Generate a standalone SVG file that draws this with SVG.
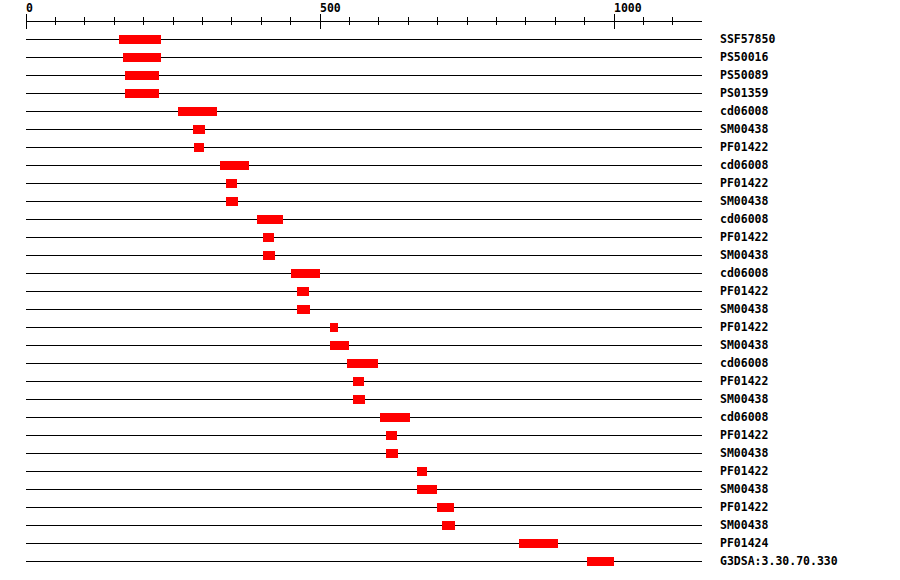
<svg xmlns="http://www.w3.org/2000/svg" width="900" height="580" viewBox="0 0 900 580">
<style>
.ln{stroke:#000;stroke-width:1;shape-rendering:crispEdges}
.bar{fill:#ff0000;shape-rendering:crispEdges}
.t{font-family:"DejaVu Sans Mono","Liberation Mono",monospace;font-weight:bold;font-size:11.5px;fill:#000}
</style>
<rect width="900" height="580" fill="#fff"/>
<g id="axis">
<line class="ln" x1="26" y1="21.5" x2="702" y2="21.5"/>
<line class="ln" x1="26.5" y1="14" x2="26.5" y2="29"/>
<line class="ln" x1="55.5" y1="17" x2="55.5" y2="25"/>
<line class="ln" x1="84.5" y1="17" x2="84.5" y2="25"/>
<line class="ln" x1="114.5" y1="17" x2="114.5" y2="25"/>
<line class="ln" x1="143.5" y1="17" x2="143.5" y2="25"/>
<line class="ln" x1="173.5" y1="17" x2="173.5" y2="25"/>
<line class="ln" x1="202.5" y1="17" x2="202.5" y2="25"/>
<line class="ln" x1="231.5" y1="17" x2="231.5" y2="25"/>
<line class="ln" x1="261.5" y1="17" x2="261.5" y2="25"/>
<line class="ln" x1="290.5" y1="17" x2="290.5" y2="25"/>
<line class="ln" x1="320.5" y1="14" x2="320.5" y2="29"/>
<line class="ln" x1="349.5" y1="17" x2="349.5" y2="25"/>
<line class="ln" x1="378.5" y1="17" x2="378.5" y2="25"/>
<line class="ln" x1="408.5" y1="17" x2="408.5" y2="25"/>
<line class="ln" x1="437.5" y1="17" x2="437.5" y2="25"/>
<line class="ln" x1="467.5" y1="17" x2="467.5" y2="25"/>
<line class="ln" x1="496.5" y1="17" x2="496.5" y2="25"/>
<line class="ln" x1="525.5" y1="17" x2="525.5" y2="25"/>
<line class="ln" x1="555.5" y1="17" x2="555.5" y2="25"/>
<line class="ln" x1="584.5" y1="17" x2="584.5" y2="25"/>
<line class="ln" x1="614.5" y1="14" x2="614.5" y2="29"/>
<line class="ln" x1="643.5" y1="17" x2="643.5" y2="25"/>
<line class="ln" x1="672.5" y1="17" x2="672.5" y2="25"/>
<text class="t" x="26" y="12">0</text>
<text class="t" x="320" y="12">500</text>
<text class="t" x="614" y="12">1000</text>
</g>
<g id="connectors">
<line class="ln" x1="26" y1="39.5" x2="702" y2="39.5"/>
<line class="ln" x1="26" y1="57.5" x2="702" y2="57.5"/>
<line class="ln" x1="26" y1="75.5" x2="702" y2="75.5"/>
<line class="ln" x1="26" y1="93.5" x2="702" y2="93.5"/>
<line class="ln" x1="26" y1="111.5" x2="702" y2="111.5"/>
<line class="ln" x1="26" y1="129.5" x2="702" y2="129.5"/>
<line class="ln" x1="26" y1="147.5" x2="702" y2="147.5"/>
<line class="ln" x1="26" y1="165.5" x2="702" y2="165.5"/>
<line class="ln" x1="26" y1="183.5" x2="702" y2="183.5"/>
<line class="ln" x1="26" y1="201.5" x2="702" y2="201.5"/>
<line class="ln" x1="26" y1="219.5" x2="702" y2="219.5"/>
<line class="ln" x1="26" y1="237.5" x2="702" y2="237.5"/>
<line class="ln" x1="26" y1="255.5" x2="702" y2="255.5"/>
<line class="ln" x1="26" y1="273.5" x2="702" y2="273.5"/>
<line class="ln" x1="26" y1="291.5" x2="702" y2="291.5"/>
<line class="ln" x1="26" y1="309.5" x2="702" y2="309.5"/>
<line class="ln" x1="26" y1="327.5" x2="702" y2="327.5"/>
<line class="ln" x1="26" y1="345.5" x2="702" y2="345.5"/>
<line class="ln" x1="26" y1="363.5" x2="702" y2="363.5"/>
<line class="ln" x1="26" y1="381.5" x2="702" y2="381.5"/>
<line class="ln" x1="26" y1="399.5" x2="702" y2="399.5"/>
<line class="ln" x1="26" y1="417.5" x2="702" y2="417.5"/>
<line class="ln" x1="26" y1="435.5" x2="702" y2="435.5"/>
<line class="ln" x1="26" y1="453.5" x2="702" y2="453.5"/>
<line class="ln" x1="26" y1="471.5" x2="702" y2="471.5"/>
<line class="ln" x1="26" y1="489.5" x2="702" y2="489.5"/>
<line class="ln" x1="26" y1="507.5" x2="702" y2="507.5"/>
<line class="ln" x1="26" y1="525.5" x2="702" y2="525.5"/>
<line class="ln" x1="26" y1="543.5" x2="702" y2="543.5"/>
<line class="ln" x1="26" y1="561.5" x2="702" y2="561.5"/>
</g>
<g id="row1"><rect class="bar" x="119" y="35" width="42" height="9"/><text class="t" x="720" y="43">SSF57850</text></g>
<g id="row2"><rect class="bar" x="123" y="53" width="38" height="9"/><text class="t" x="720" y="61">PS50016</text></g>
<g id="row3"><rect class="bar" x="125" y="71" width="34" height="9"/><text class="t" x="720" y="79">PS50089</text></g>
<g id="row4"><rect class="bar" x="125" y="89" width="34" height="9"/><text class="t" x="720" y="97">PS01359</text></g>
<g id="row5"><rect class="bar" x="178" y="107" width="39" height="9"/><text class="t" x="720" y="115">cd06008</text></g>
<g id="row6"><rect class="bar" x="193" y="125" width="12" height="9"/><text class="t" x="720" y="133">SM00438</text></g>
<g id="row7"><rect class="bar" x="194" y="143" width="10" height="9"/><text class="t" x="720" y="151">PF01422</text></g>
<g id="row8"><rect class="bar" x="220" y="161" width="29" height="9"/><text class="t" x="720" y="169">cd06008</text></g>
<g id="row9"><rect class="bar" x="226" y="179" width="11" height="9"/><text class="t" x="720" y="187">PF01422</text></g>
<g id="row10"><rect class="bar" x="226" y="197" width="12" height="9"/><text class="t" x="720" y="205">SM00438</text></g>
<g id="row11"><rect class="bar" x="257" y="215" width="26" height="9"/><text class="t" x="720" y="223">cd06008</text></g>
<g id="row12"><rect class="bar" x="263" y="233" width="11" height="9"/><text class="t" x="720" y="241">PF01422</text></g>
<g id="row13"><rect class="bar" x="263" y="251" width="12" height="9"/><text class="t" x="720" y="259">SM00438</text></g>
<g id="row14"><rect class="bar" x="291" y="269" width="29" height="9"/><text class="t" x="720" y="277">cd06008</text></g>
<g id="row15"><rect class="bar" x="297" y="287" width="12" height="9"/><text class="t" x="720" y="295">PF01422</text></g>
<g id="row16"><rect class="bar" x="297" y="305" width="13" height="9"/><text class="t" x="720" y="313">SM00438</text></g>
<g id="row17"><rect class="bar" x="330" y="323" width="8" height="9"/><text class="t" x="720" y="331">PF01422</text></g>
<g id="row18"><rect class="bar" x="330" y="341" width="19" height="9"/><text class="t" x="720" y="349">SM00438</text></g>
<g id="row19"><rect class="bar" x="347" y="359" width="31" height="9"/><text class="t" x="720" y="367">cd06008</text></g>
<g id="row20"><rect class="bar" x="353" y="377" width="11" height="9"/><text class="t" x="720" y="385">PF01422</text></g>
<g id="row21"><rect class="bar" x="353" y="395" width="12" height="9"/><text class="t" x="720" y="403">SM00438</text></g>
<g id="row22"><rect class="bar" x="380" y="413" width="30" height="9"/><text class="t" x="720" y="421">cd06008</text></g>
<g id="row23"><rect class="bar" x="386" y="431" width="11" height="9"/><text class="t" x="720" y="439">PF01422</text></g>
<g id="row24"><rect class="bar" x="386" y="449" width="12" height="9"/><text class="t" x="720" y="457">SM00438</text></g>
<g id="row25"><rect class="bar" x="417" y="467" width="10" height="9"/><text class="t" x="720" y="475">PF01422</text></g>
<g id="row26"><rect class="bar" x="417" y="485" width="20" height="9"/><text class="t" x="720" y="493">SM00438</text></g>
<g id="row27"><rect class="bar" x="437" y="503" width="17" height="9"/><text class="t" x="720" y="511">PF01422</text></g>
<g id="row28"><rect class="bar" x="442" y="521" width="13" height="9"/><text class="t" x="720" y="529">SM00438</text></g>
<g id="row29"><rect class="bar" x="519" y="539" width="39" height="9"/><text class="t" x="720" y="547">PF01424</text></g>
<g id="row30"><rect class="bar" x="587" y="557" width="27" height="9"/><text class="t" x="720" y="565">G3DSA:3.30.70.330</text></g>
</svg>
